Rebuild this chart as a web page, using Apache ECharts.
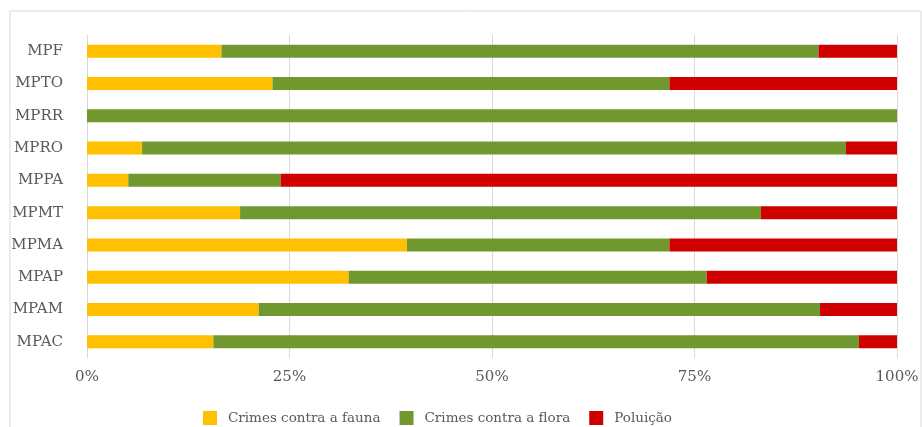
<!DOCTYPE html>
<html>
<head>
<meta charset="utf-8">
<script src="https://cdn.jsdelivr.net/npm/echarts@6/dist/echarts.min.js"></script>
<style>
  html, body { margin: 0; padding: 0; background: #fff; }
  #chart { width: 922px; height: 427px; }
</style>
</head>
<body>
<div id="chart"></div>
<script>
// categories bottom to top (echarts draws the first category at the bottom)
var categories = ['MPAC', 'MPAM', 'MPAP', 'MPMA', 'MPMT', 'MPPA', 'MPRO', 'MPRR', 'MPTO', 'MPF'];
var fauna    = [15.6, 21.2, 32.3, 39.5, 18.9, 5.1, 6.8, 0, 22.9, 16.6];
var flora    = [79.7, 69.3, 44.2, 32.4, 64.3, 18.8, 86.9, 100, 49.0, 73.7];
var poluicao = [4.7, 9.5, 23.5, 28.1, 16.8, 76.1, 6.3, 0, 28.1, 9.7];
var seriesNames = ['Crimes contra a fauna', 'Crimes contra a flora', 'Poluição'];
var colors = ['#ffc000', '#70982e', '#d00000'];

var myChart = echarts.init(document.getElementById('chart'));
var font = 'DejaVu Serif';

function bar(name, data) {
  return {
    name: name,
    type: 'bar',
    stack: 'total',
    barWidth: 13,
    data: data,
    emphasis: { disabled: true }
  };
}

var option = {
  animation: false,
  color: colors,
  graphic: [{
    type: 'rect',
    shape: { x: 10, y: 11, width: 911, height: 430 },
    style: { fill: 'none', stroke: '#d9d9d9', lineWidth: 1 },
    silent: true
  }],
  grid: { left: 87, right: 25, top: 35, bottom: 69 },
  legend: {
    left: 203,
    top: 411,
    padding: 0,
    itemWidth: 14,
    itemHeight: 14,
    itemGap: 19,
    icon: 'rect',
    data: seriesNames,
    textStyle: { color: '#595959', fontFamily: font, fontSize: 13.5, padding: [0, 0, 0, 6] }
  },
  xAxis: {
    type: 'value',
    min: 0,
    max: 100,
    interval: 25,
    axisLine: { show: false },
    axisTick: { show: false },
    splitLine: { lineStyle: { color: '#d9d9d9', width: 1 } },
    axisLabel: {
      color: '#595959',
      fontFamily: font,
      fontSize: 15,
      margin: 12,
      formatter: '{value}%'
    }
  },
  yAxis: {
    type: 'category',
    data: categories,
    axisLine: { show: false },
    axisTick: { show: false },
    axisLabel: { color: '#595959', fontFamily: font, fontSize: 15, margin: 24 }
  },
  series: [
    bar(seriesNames[0], fauna),
    bar(seriesNames[1], flora),
    bar(seriesNames[2], poluicao)
  ]
};
myChart.setOption(option);
</script>
</body>
</html>
